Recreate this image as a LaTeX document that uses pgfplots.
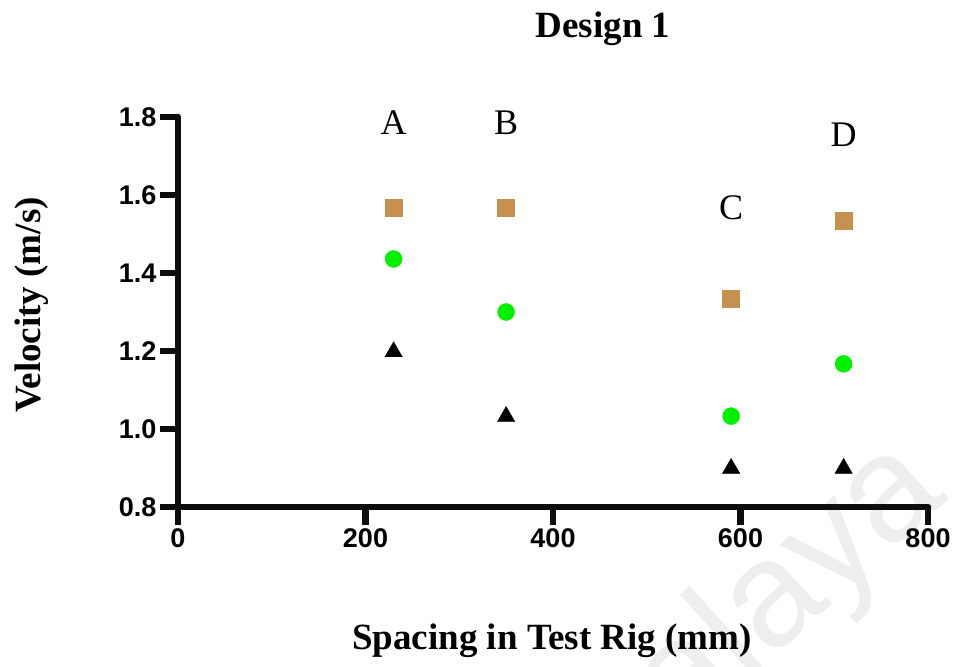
\documentclass[border=0pt]{standalone}
\usepackage{pgfplots}
\pgfplotsset{compat=1.18}
\usepackage{fontspec}
\setmainfont{Liberation Serif}
\setsansfont{Liberation Sans}
\definecolor{sq}{HTML}{C4914E}
\definecolor{gr}{HTML}{00F000}
\definecolor{wm}{HTML}{EEEEEE}
\begin{document}
\begin{tikzpicture}
\useasboundingbox (0,0) rectangle (960pt,666pt);
\begin{scope}
\clip (0,0) rectangle (960pt,666pt);
\node[font=\fontsize{150}{150}\selectfont\sffamily, text=wm, rotate=42, anchor=base east, inner sep=0pt] at (950pt,168pt) {Malaya};
\end{scope}
\begin{axis}[
  at={(178pt,159pt)}, anchor=south west,
  scale only axis, width=750pt, height=390pt,
  xmin=0, xmax=800, ymin=0.8, ymax=1.8,
  axis x line=bottom, axis y line=left,
  axis line style={-, line width=6.5pt, black!95, line cap=round},
  xtick={0,200,400,600,800},
  ytick={0.8,1.0,1.2,1.4,1.6,1.8},
  tick align=outside,
  major tick length=18pt,
  every tick/.style={line width=6.5pt, black!95},
  yticklabel style={/pgf/number format/fixed, /pgf/number format/fixed zerofill, /pgf/number format/precision=1},
  tick label style={font=\fontsize{27}{27}\selectfont\sffamily\bfseries, /pgf/number format/assume math mode=true},
  clip=false,
]
\addplot[only marks, mark=square*, mark size=8.5pt, color=sq] coordinates {
 (230,1.567) (350,1.567) (590,1.333) (710,1.533)};
\addplot[only marks, mark=*, mark size=8.5pt, color=gr] coordinates {
 (230,1.436) (350,1.300) (590,1.033) (710,1.167)};
\addplot[only marks, mark=triangle*, mark size=10pt, color=black] coordinates {
 (230,1.198) (350,1.032) (590,0.899) (710,0.899)};
\node[font=\fontsize{36}{36}\selectfont] at (axis cs:230,1.786) {A};
\node[font=\fontsize{36}{36}\selectfont] at (axis cs:350,1.786) {B};
\node[font=\fontsize{36}{36}\selectfont] at (axis cs:590,1.568) {C};
\node[font=\fontsize{36}{36}\selectfont] at (axis cs:710,1.754) {D};
\end{axis}
\node[font=\fontsize{37}{37}\selectfont\bfseries] at (603pt,637pt) {Design 1};
\node[font=\fontsize{37}{37}\selectfont\bfseries] at (552pt,25pt) {Spacing in Test Rig (mm)};
\node[font=\fontsize{37}{37}\selectfont\bfseries, rotate=90] at (32pt,361pt) {Velocity (m/s)};
\end{tikzpicture}
\end{document}
